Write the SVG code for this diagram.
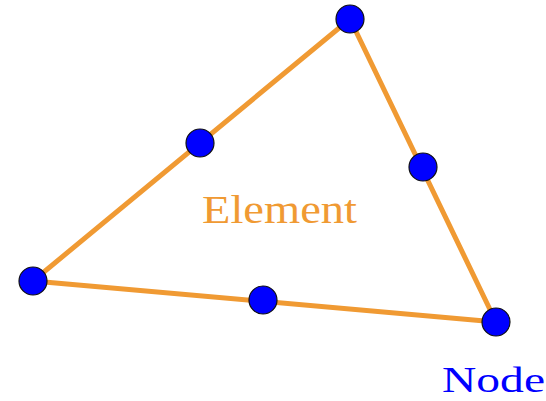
<svg xmlns="http://www.w3.org/2000/svg" width="546" height="401" viewBox="0 0 546 401">
<style>
.edge{stroke:#F09A33;stroke-width:5;fill:none;stroke-linejoin:round}
.node{fill:#0000FF;stroke:#111;stroke-width:1.2}
.lbl{font-family:"Liberation Serif","Times New Roman",serif}
</style>
<rect width="546" height="401" fill="#fff"/>
<g id="connectors">
<polygon class="edge" points="350,19 496,322 33,281"/>
</g>
<g id="n1"><circle class="node" cx="350" cy="19" r="14"/></g>
<g id="n2"><circle class="node" cx="200" cy="143" r="14"/></g>
<g id="n3"><circle class="node" cx="423" cy="167" r="14"/></g>
<g id="n4"><circle class="node" cx="33" cy="281" r="14"/></g>
<g id="n5"><circle class="node" cx="263" cy="300" r="14"/></g>
<g id="n6"><circle class="node" cx="496" cy="322" r="14"/></g>
<text class="lbl" x="202" y="223" font-size="40" fill="#F09A33" textLength="155" lengthAdjust="spacingAndGlyphs">Element</text>
<text class="lbl" x="442" y="392" font-size="36" fill="#0000FF" textLength="103" lengthAdjust="spacingAndGlyphs">Node</text>
</svg>
